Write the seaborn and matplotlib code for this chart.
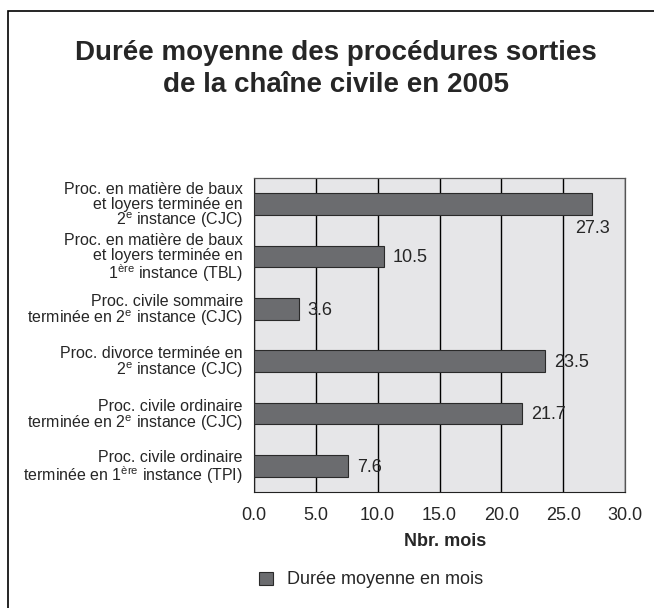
import matplotlib
matplotlib.use("Agg")
import matplotlib.pyplot as plt
import matplotlib.patches as mpatches
import pandas as pd
import seaborn as sns

# ── data ──────────────────────────────────────────────
categories = [
    "Proc. en matière de baux\net loyers terminée en\n2$^\\mathregular{e}$ instance (CJC)",
    "Proc. en matière de baux\net loyers terminée en\n1$^\\mathregular{ère}$ instance (TBL)",
    "Proc. civile sommaire\nterminée en 2$^\\mathregular{e}$ instance (CJC)",
    "Proc. divorce terminée en\n2$^\\mathregular{e}$ instance (CJC)",
    "Proc. civile ordinaire\nterminée en 2$^\\mathregular{e}$ instance (CJC)",
    "Proc. civile ordinaire\nterminée en 1$^\\mathregular{ère}$ instance (TPI)",
]
durations = [27.3, 10.5, 3.6, 23.5, 21.7, 7.6]
x_ticks = [0, 5, 10, 15, 20, 25, 30]

title_lines = ["Durée moyenne des procédures sorties", "de la chaîne civile en 2005"]
x_label = "Nbr. mois"
legend_label = "Durée moyenne en mois"

BAR = "#6b6c6f"
BG = "#e6e6e8"

sns.set_style("white")
plt.rcParams["font.family"] = ["Liberation Sans", "DejaVu Sans"]
plt.rcParams["mathtext.fontset"] = "custom"
plt.rcParams["mathtext.rm"] = "Liberation Sans"

df = pd.DataFrame({"cat": categories, "val": durations})

fig = plt.figure(figsize=(6.54, 6.08), dpi=100)
ax = fig.add_axes([254 / 654, 1 - 492 / 608, (625 - 254) / 654, (492 - 178) / 608])
ax.set_facecolor(BG)

sns.barplot(data=df, x="val", y="cat", orient="h", color=BAR, width=0.42,
            edgecolor="#2a2a2a", linewidth=0.8, saturation=1, ax=ax, zorder=3)

ax.set_xlim(0, 30)
ax.set_ylim(len(categories) - 0.5, -0.5)
ax.set_xticks(x_ticks)
ax.set_xticklabels([f"{t:.1f}" for t in x_ticks], fontsize=13)
ax.xaxis.grid(True, color="black", linewidth=1.0, zorder=1)
ax.set_axisbelow(True)

# category labels and tick marks between categories
ax.set_yticks(range(len(categories)))
ax.set_yticklabels(categories, fontsize=11.5, linespacing=0.95)
ax.tick_params(axis="y", length=0, pad=8)
ax.set_yticks([i - 0.5 for i in range(len(categories) + 1)], minor=True)
ax.tick_params(axis="y", which="minor", length=4, color="#333333", direction="out")
ax.tick_params(axis="x", length=4, color="#333333", direction="out", pad=7)
ax.set_xlabel("")
ax.set_ylabel("")

for side in ["left", "bottom"]:
    ax.spines[side].set_color("#222222")
for side in ["top", "right"]:
    ax.spines[side].set_color("#555555")
    ax.spines[side].set_linewidth(0.9)

# value labels
for i, v in enumerate(durations):
    if i == 0:
        ax.text(v + 0.1, i + 0.31, f"{v:.1f}", ha="center", va="top", fontsize=13)
    else:
        ax.annotate(f"{v:.1f}", xy=(v, i), xytext=(6.5, -1), textcoords="offset points",
                    ha="left", va="center", fontsize=13)

# title, one text per line so each baseline can be placed
for line, base in zip(title_lines, [60, 92]):
    fig.text(336 / 654, 1 - base / 608, line, ha="center", va="baseline",
             fontsize=20, fontweight="bold")
fig.text(445 / 654, 1 - 541 / 608, x_label, ha="center", va="center",
         fontsize=13, fontweight="bold")

handle = mpatches.Patch(facecolor=BAR, edgecolor="#2a2a2a", linewidth=0.8, label=legend_label)
fig.legend(handles=[handle], loc="center left", bbox_to_anchor=(243 / 654, 1 - 580 / 608),
           frameon=False, fontsize=13, handlelength=0.75, handleheight=0.75, handletextpad=0.8)

# border around the chart (right and bottom edges fall outside the image)
fig.patches.append(mpatches.Rectangle((8 / 654, -0.02), 1.0, 1 - 11 / 608 + 0.02,
                                      transform=fig.transFigure, fill=False,
                                      edgecolor="black", linewidth=1.2))

fig.savefig("out.png", dpi=100)
